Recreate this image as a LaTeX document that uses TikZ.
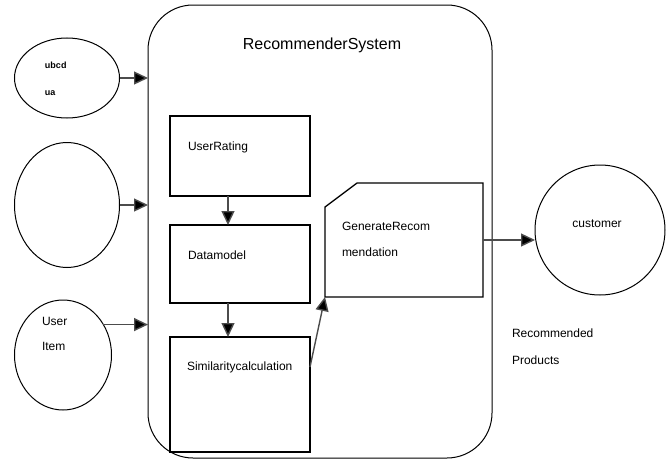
\documentclass[tikz,border=0pt]{standalone}
\usepackage{fontspec}
\setmainfont{Liberation Sans}
\usetikzlibrary{arrows.meta,shapes.geometric}
\begin{document}
\begin{tikzpicture}[x=1pt,y=-1pt,inner sep=0pt,outer sep=0pt,
  font=\fontsize{12}{14}\selectfont,
  flowline/.style={line width=1.4pt,draw=black!70,-{Triangle[length=14pt,width=13pt,fill=black]}},
  userblob/.style={draw,ellipse,line width=1pt},
  stagebox/.style={draw,rectangle,line width=1.3pt,minimum width=140pt},
  boxtext/.style={anchor=west}]
\useasboundingbox (0,0) rectangle (670,463);
% the system frame
\node[draw,rectangle,rounded corners=45pt,line width=1pt,minimum width=344pt,minimum height=453pt] (sys) at (320,231.5) {};
\node (systitle) at (322,45) {\fontsize{16}{18}\selectfont RecommenderSystem};

% inputs
\node[userblob,minimum width=105pt,minimum height=80pt] (u1) at (67,78) {};
\node[anchor=north west,align=left,font=\fontsize{9}{27}\selectfont\bfseries] (u1text) at (45,62) {ubcd\\ua};
\node[userblob,minimum width=105pt,minimum height=125pt] (u2) at (67,205) {};
\node[userblob,minimum width=97pt,minimum height=110pt] (u3) at (63,355) {};
\node[anchor=north west,align=left,font=\fontsize{12}{25}\selectfont] (u3text) at (42,317) {User\\Item};

% stages
\node[stagebox,minimum height=80pt] (ur) at (240,156) {};
\node[boxtext] (urtext) at (188,147) {UserRating};
\node[stagebox,minimum height=78pt] (dm) at (240,264) {};
\node[boxtext] (dmtext) at (188,255) {Datamodel};
\node[stagebox,minimum height=115pt] (sim) at (240,394.5) {};
\node[boxtext] (simtext) at (187,367) {Similaritycalculation};

\node[rectangle,minimum width=158pt,minimum height=114pt] (gen) at (404,240) {};
\draw[line width=1.3pt] ([yshift=-24pt]gen.north west) -- (gen.south west) -- (gen.south east)
  -- (gen.north east) -- ([xshift=32pt]gen.north west) -- cycle;
\node[anchor=north west,align=left,font=\fontsize{12}{26}\selectfont] (gentext) at (342,222) {GenerateRecom\\mendation};

% output
\node[draw,circle,line width=1pt,minimum size=130pt] (cust) at (600,230) {};
\node (custtext) at (597,224) {customer};
\node[anchor=north west,align=left,font=\fontsize{12}{27}\selectfont] (prodtext) at (512,329) {Recommended\\Products};

\draw[flowline] (u1.east) -- (u1.east -| sys.west);
\draw[flowline] (u2.east) -- (u2.east -| sys.west);
\draw[flowline] (u3.37) -- (u3.37 -| sys.west);
\draw[flowline] ([xshift=-12pt]ur.south) -- ([xshift=-12pt]dm.north);
\draw[flowline] ([xshift=-12pt]dm.south) -- ([xshift=-12pt]sim.north);
\draw[flowline] (sim.east |- simtext) -- (gen.south west);
\draw[flowline] (gen.east) -- (gen.east -| cust.west);
\end{tikzpicture}
\end{document}
